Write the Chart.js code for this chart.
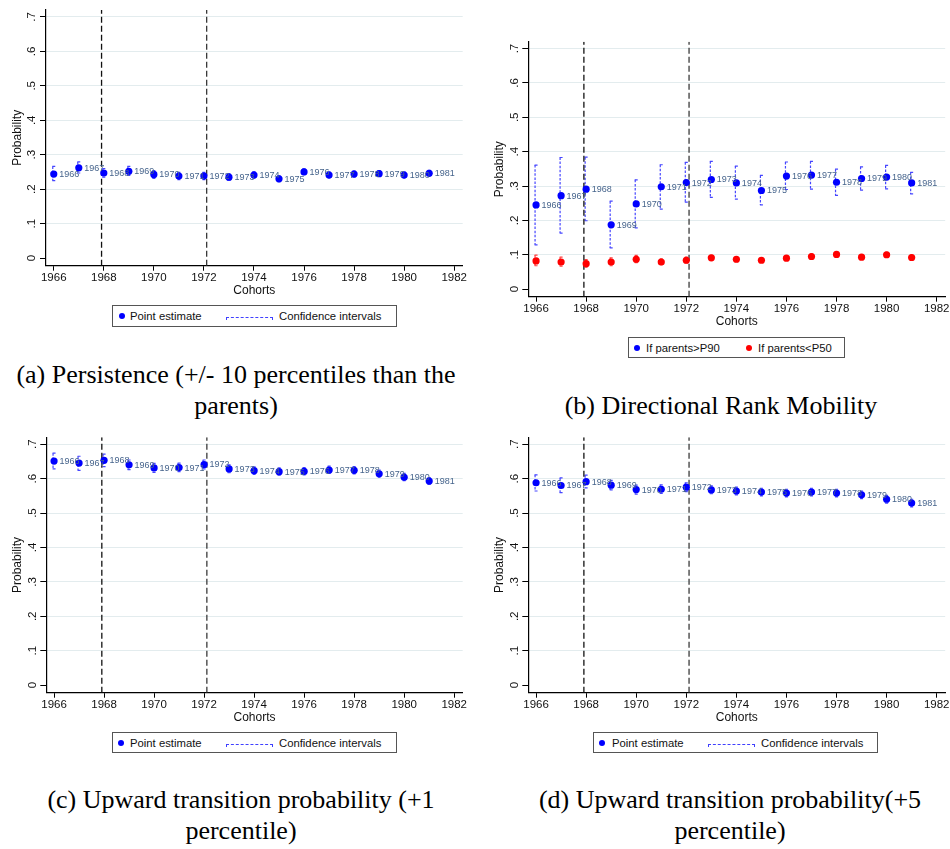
<!DOCTYPE html>
<html><head><meta charset="utf-8">
<script src="https://cdn.jsdelivr.net/npm/chart.js@4.4.1/dist/chart.umd.min.js"></script>
<style>
html,body{margin:0;padding:0;background:#fff;}
body{width:950px;height:849px;position:relative;overflow:hidden;font-family:"Liberation Sans",Arial,sans-serif;}
canvas{position:absolute;}
.legend{position:absolute;border:1px solid #555;background:#fff;box-sizing:border-box;font-size:11.3px;color:#111;}
.legend .it{position:absolute;top:50%;transform:translateY(-50%);white-space:nowrap;line-height:13px;}
.legend .dot{width:6px;height:6px;border-radius:50%;}
.legend .dash{height:2px;border-top:1.4px dashed #4040ff;border-left:1px solid #4040ff;border-right:1px solid #4040ff;transform:translateY(0);}
.cap{position:absolute;font-family:"Liberation Serif","Times New Roman",serif;font-size:26px;line-height:31px;text-align:center;color:#000;white-space:nowrap;}
</style>
</head><body>
<canvas id="pa" width="475" height="300" style="left:0px;top:0px"></canvas>
<canvas id="pb" width="468" height="300" style="left:482px;top:31px"></canvas>
<canvas id="pc" width="475" height="300" style="left:0px;top:427px"></canvas>
<canvas id="pd" width="468" height="300" style="left:482px;top:427px"></canvas>

<div class="legend" style="left:112px;top:305px;width:285px;height:22px">
  <div class="it dot" style="left:6px;background:#0000ff"></div>
  <div class="it" style="left:17px">Point estimate</div>
  <div class="it dash" style="left:113px;width:45px;margin-top:1px"></div>
  <div class="it" style="left:166px">Confidence intervals</div>
</div>
<div class="legend" style="left:628px;top:337px;width:217px;height:21px">
  <div class="it dot" style="left:5px;background:#0000ff"></div>
  <div class="it" style="left:17px">If parents&gt;P90</div>
  <div class="it dot" style="left:117px;background:#ff0000"></div>
  <div class="it" style="left:129px">If parents&lt;P50</div>
</div>
<div class="legend" style="left:112px;top:732px;width:285px;height:21px">
  <div class="it dot" style="left:5px;background:#0000ff"></div>
  <div class="it" style="left:17px">Point estimate</div>
  <div class="it dash" style="left:113px;width:45px;margin-top:1px"></div>
  <div class="it" style="left:166px">Confidence intervals</div>
</div>
<div class="legend" style="left:593px;top:732px;width:285px;height:21px">
  <div class="it dot" style="left:5px;background:#0000ff"></div>
  <div class="it" style="left:18px">Point estimate</div>
  <div class="it dash" style="left:114px;width:45px;margin-top:1px"></div>
  <div class="it" style="left:167px">Confidence intervals</div>
</div>

<div class="cap" style="left:0px;top:359px;width:472px">(a) Persistence (+/- 10 percentiles than the<br>parents)</div>
<div class="cap" style="left:480px;top:390px;width:482px">(b) Directional Rank Mobility</div>
<div class="cap" style="left:0px;top:784px;width:482px">(c) Upward transition probability (+1<br>percentile)</div>
<div class="cap" style="left:488px;top:784px;width:484px">(d) Upward transition probability(+5<br>percentile)</div>

<script>
// ---------------- data ----------------
const cohorts = [1966,1967,1968,1969,1970,1971,1972,1973,1974,1975,1976,1977,1978,1979,1980,1981];
const xTicks = [1966,1968,1970,1972,1974,1976,1978,1980,1982];
const yTicks = [0,0.1,0.2,0.3,0.4,0.5,0.6,0.7];
const yTickLabels = ['0','.1','.2','.3','.4','.5','.6','.7'];
const vLines = [1967.91, 1972.11];
const xTitle = 'Cohorts';
const yTitle = 'Probability';

// (a) Persistence
const persEst = [0.244,0.262,0.247,0.252,0.243,0.238,0.238,0.235,0.241,0.230,0.250,0.241,0.244,0.245,0.241,0.246];
const persLo  = [0.225,0.247,0.235,0.240,0.231,0.228,0.228,0.226,0.232,0.222,0.242,0.233,0.236,0.237,0.233,0.238];
const persHi  = [0.266,0.279,0.260,0.266,0.254,0.249,0.249,0.245,0.251,0.239,0.259,0.250,0.253,0.254,0.250,0.255];

// (b) Directional rank mobility
const p90Est = [0.245,0.272,0.291,0.187,0.248,0.298,0.310,0.319,0.309,0.287,0.329,0.332,0.311,0.322,0.326,0.309];
const p90Lo  = [0.129,0.163,0.199,0.120,0.178,0.233,0.253,0.267,0.262,0.245,0.290,0.291,0.273,0.288,0.292,0.277];
const p90Hi  = [0.361,0.383,0.384,0.256,0.318,0.362,0.369,0.372,0.358,0.331,0.370,0.372,0.349,0.356,0.360,0.340];
const p50Est = [0.082,0.079,0.074,0.079,0.087,0.079,0.084,0.091,0.087,0.084,0.090,0.095,0.101,0.093,0.100,0.092];
const p50Lo  = [0.068,0.067,0.064,0.068,0.077,0.071,0.076,0.084,0.080,0.078,0.084,0.089,0.095,0.087,0.094,0.086];
const p50Hi  = [0.099,0.093,0.086,0.091,0.098,0.088,0.093,0.098,0.094,0.091,0.097,0.102,0.108,0.100,0.107,0.099];

// (c) Upward transition +1 percentile
const up1Est = [0.651,0.645,0.653,0.640,0.631,0.632,0.641,0.628,0.623,0.620,0.621,0.625,0.624,0.614,0.604,0.593];
const up1Lo  = [0.628,0.624,0.635,0.626,0.618,0.620,0.628,0.617,0.612,0.610,0.611,0.615,0.614,0.604,0.594,0.583];
const up1Hi  = [0.674,0.665,0.671,0.654,0.644,0.645,0.654,0.640,0.634,0.631,0.632,0.636,0.635,0.625,0.615,0.603];

// (d) Upward transition +5 percentile
const up5Est = [0.588,0.580,0.591,0.581,0.568,0.569,0.575,0.567,0.564,0.561,0.558,0.561,0.558,0.553,0.540,0.529];
const up5Lo  = [0.564,0.559,0.573,0.567,0.555,0.557,0.562,0.556,0.553,0.550,0.547,0.550,0.547,0.542,0.529,0.518];
const up5Hi  = [0.611,0.602,0.610,0.595,0.581,0.582,0.588,0.579,0.575,0.572,0.569,0.572,0.569,0.564,0.551,0.540];

// ---------------- chart helpers ----------------
const X_MIN = 1965.69, X_MAX = 1982.34, Y_MIN = -0.022, Y_MAX = 0.72;
const SANS = '"Liberation Sans", Arial, Helvetica, sans-serif';

const ciPlugin = {
  id: 'ciAndLabels',
  beforeDatasetsDraw(chart) {
    const {ctx, scales: {x, y}} = chart;
    chart.data.datasets.forEach(ds => {
      if (!ds.ciLo) return;
      ctx.save();
      ctx.strokeStyle = ds.ciColor;
      ctx.lineWidth = 1.2;
      cohorts.forEach((c, i) => {
        const px = x.getPixelForValue(c);
        const lo = y.getPixelForValue(ds.ciLo[i]);
        const hi = y.getPixelForValue(ds.ciHi[i]);
        ctx.setLineDash([2.5, 1.6]);
        ctx.beginPath(); ctx.moveTo(px - 1, hi); ctx.lineTo(px - 1, lo); ctx.stroke();
        ctx.setLineDash([]);
        ctx.beginPath();
        ctx.moveTo(px - 1.5, hi); ctx.lineTo(px + 1.5, hi);
        ctx.moveTo(px - 1.5, lo); ctx.lineTo(px + 1.5, lo);
        ctx.stroke();
      });
      ctx.restore();
    });
  },
  afterDatasetsDraw(chart) {
    const {ctx, scales: {x, y}} = chart;
    chart.data.datasets.forEach(ds => {
      if (!ds.showLabels) return;
      ctx.save();
      ctx.font = '9px ' + SANS;
      ctx.fillStyle = '#46648c';
      ctx.textAlign = 'left';
      ctx.textBaseline = 'middle';
      ds.data.forEach((p, i) => {
        ctx.fillText(String(cohorts[i]), x.getPixelForValue(p.x) + 5.5, y.getPixelForValue(p.y) + 0.5);
      });
      ctx.restore();
    });
  }
};

function pointSet(est, lo, hi, color, ciColor, labels) {
  return {
    type: 'scatter',
    data: cohorts.map((c, i) => ({x: c, y: est[i]})),
    pointRadius: 3.6, pointHoverRadius: 3.6,
    pointBackgroundColor: color, pointBorderWidth: 0, borderColor: color,
    showLine: false, order: 0,
    ciLo: lo, ciHi: hi, ciColor: ciColor, showLabels: labels
  };
}
function vLineSets() {
  return vLines.map((v, k) => ({
    type: 'line',
    data: [{x: v, y: Y_MIN}, {x: v, y: Y_MAX}],
    borderColor: k ? '#3a3a3a' : '#111',
    borderWidth: 1.3, borderDash: [6, 3],
    pointRadius: 0, showLine: true, order: 5, fill: false
  }));
}

function makePanel(id, box, pointSets) {
  const {left, top, width, height, L, R, T, B} = box;
  new Chart(document.getElementById(id), {
    type: 'scatter',
    data: {datasets: [...vLineSets(), ...pointSets]},
    plugins: [ciPlugin],
    options: {
      responsive: false, animation: false, devicePixelRatio: 1,
      layout: {padding: {left: 0, top: T - top, right: (left + width) - R, bottom: 0}},
      plugins: {legend: {display: false}, tooltip: {enabled: false}},
      scales: {
        x: {
          type: 'linear', min: X_MIN, max: X_MAX,
          afterBuildTicks: s => { s.ticks = xTicks.map(v => ({value: v})); },
          afterFit: s => { s.height = (top + height) - B; },
          grid: {drawOnChartArea: false, tickLength: 5, tickColor: '#000', tickWidth: 1},
          border: {color: '#000', width: 1.2},
          ticks: {padding: 0, color: '#111', font: {family: SANS, size: 11.5}, autoSkip: false,
                  maxRotation: 0, minRotation: 0, callback: v => String(v)},
          title: {display: true, text: xTitle, color: '#111', font: {family: SANS, size: 12},
                  padding: {top: 0, bottom: 1.8}}
        },
        y: {
          type: 'linear', min: Y_MIN, max: Y_MAX,
          afterBuildTicks: s => { s.ticks = yTicks.map(v => ({value: v})); },
          afterFit: s => { s.width = L - left; },
          grid: {color: c => (c.tick && c.tick.value === 0) ? 'rgba(0,0,0,0)' : '#e3ecee',
                 lineWidth: 1, tickLength: 6, tickColor: '#000', tickWidth: 1},
          border: {color: '#000', width: 1.2},
          ticks: {padding: 3, crossAlign: 'center', minRotation: 90, maxRotation: 90, autoSkip: false,
                  color: '#111', font: {family: SANS, size: 11.5},
                  callback: v => yTickLabels[yTicks.indexOf(v)]},
          title: {display: true, text: yTitle, color: '#111', font: {family: SANS, size: 12},
                  padding: {top: 10.8, bottom: 0}}
        }
      }
    }
  });
}

makePanel('pa', {left: 0, top: 0, width: 475, height: 300, L: 46, R: 462.7, T: 10, B: 265.7},
  [pointSet(persEst, persLo, persHi, '#0000ff', '#4646ff', true)]);
makePanel('pb', {left: 482, top: 31, width: 468, height: 300, L: 528.3, R: 945.2, T: 41.7, B: 296.7},
  [pointSet(p90Est, p90Lo, p90Hi, '#0000ff', '#4646ff', true),
   pointSet(p50Est, p50Lo, p50Hi, '#ff0000', '#ff4040', false)]);
makePanel('pc', {left: 0, top: 427, width: 475, height: 300, L: 46.3, R: 462.7, T: 437.3, B: 692.7},
  [pointSet(up1Est, up1Lo, up1Hi, '#0000ff', '#4646ff', true)]);
makePanel('pd', {left: 482, top: 427, width: 468, height: 300, L: 528.3, R: 945.2, T: 437.3, B: 692.7},
  [pointSet(up5Est, up5Lo, up5Hi, '#0000ff', '#4646ff', true)]);
</script>
</body></html>
